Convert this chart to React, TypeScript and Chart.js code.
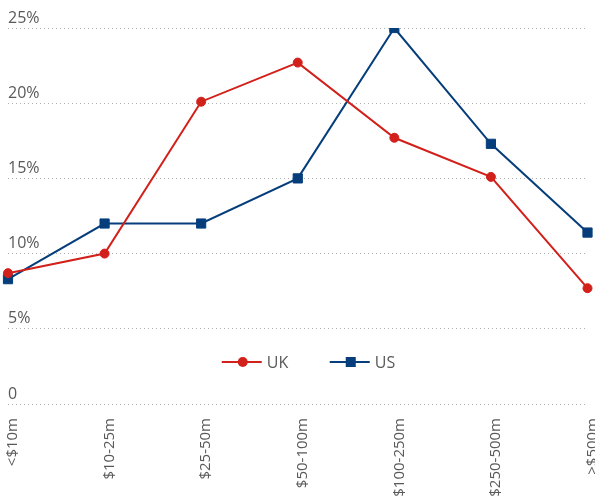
import React, { useEffect, useRef } from "react";
import { Chart, registerables } from "chart.js";

Chart.register(...registerables);

const categories = ["<$10m", "$10-25m", "$25-50m", "$50-100m", "$100-250m", "$250-500m", ">$500m"];
const ukValues = [8.7, 10.0, 20.1, 22.7, 17.7, 15.1, 7.7];
const usValues = [8.3, 12.0, 12.0, 15.0, 25.0, 17.3, 11.4];
const yTicks = [0, 5, 10, 15, 20, 25];

const UK_COLOR = "#d2201b";
const US_COLOR = "#053e7b";
const TEXT_COLOR = "#595959";
const FONT = "'Open Sans', 'Noto Sans', sans-serif";

const legendPlugin = {
  id: "innerLegend",
  afterDraw(chart: any) {
    const { ctx, chartArea } = chart;
    const cx = (chartArea.left + chartArea.right) / 2;
    const y = chartArea.bottom - 42;
    const items = [
      { label: "UK", color: UK_COLOR, style: "circle", x: cx - 76 },
      { label: "US", color: US_COLOR, style: "rect", x: cx + 32 },
    ];
    ctx.save();
    items.forEach((it) => {
      ctx.strokeStyle = it.color;
      ctx.lineWidth = 2;
      ctx.beginPath();
      ctx.moveTo(it.x, y);
      ctx.lineTo(it.x + 40, y);
      ctx.stroke();
      ctx.fillStyle = it.color;
      if (it.style === "circle") {
        ctx.beginPath();
        ctx.arc(it.x + 21, y, 5, 0, Math.PI * 2);
        ctx.fill();
      } else {
        ctx.fillRect(it.x + 16, y - 5, 10, 10);
      }
      ctx.fillStyle = TEXT_COLOR;
      ctx.font = `16px ${FONT}`;
      ctx.textBaseline = "middle";
      ctx.textAlign = "left";
      ctx.fillText(it.label, it.x + 45, y + 1);
    });
    ctx.restore();
  },
};

export default function App() {
  const ref = useRef<HTMLCanvasElement | null>(null);
  useEffect(() => {
    if (!ref.current) return;
    const chart = new Chart(ref.current, {
      type: "line",
      data: {
        labels: categories,
        datasets: [
          {
            label: "UK",
            data: ukValues,
            borderColor: UK_COLOR,
            backgroundColor: UK_COLOR,
            borderWidth: 2,
            pointStyle: "circle",
            pointRadius: 4.5,
            pointBorderWidth: 1,
            tension: 0,
          },
          {
            label: "US",
            data: usValues,
            borderColor: US_COLOR,
            backgroundColor: US_COLOR,
            borderWidth: 2,
            pointStyle: "rect",
            pointRadius: 6.5,
            pointBorderWidth: 1,
            tension: 0,
          },
        ],
      },
      options: {
        animation: false,
        responsive: true,
        maintainAspectRatio: false,
        layout: { padding: { left: 8, right: 7, top: 28, bottom: 0 } },
        plugins: {
          legend: { display: false },
          tooltip: { enabled: false },
        },
        scales: {
          x: {
            offset: false,
            grid: { display: false, drawTicks: false, tickLength: 0 },
            border: { display: false },
            afterFit: (scale: any) => {
              scale.paddingLeft = 0;
              scale.paddingRight = 0;
              scale.height = 95;
            },
            ticks: {
              color: TEXT_COLOR,
              font: { family: FONT, size: 15 },
              minRotation: 90,
              maxRotation: 90,
              padding: 14,
              labelOffset: 5,
            },
          },
          y: {
            min: 0,
            max: 25,
            afterBuildTicks: (scale: any) => {
              scale.ticks = yTicks.map((v) => ({ value: v }));
            },
            grid: {
              color: "#b0b0b0",
              lineWidth: 1,
              drawTicks: false,
            },
            border: { display: false, dash: [1, 3] },
            ticks: {
              mirror: true,
              padding: 0,
              labelOffset: -10,
              color: TEXT_COLOR,
              font: { family: FONT, size: 16 },
              callback: (v: any) => (Number(v) === 0 ? "0" : `${v}%`),
            },
          },
        },
      },
      plugins: [legendPlugin],
    });
    return () => chart.destroy();
  }, []);
  return (
    <div style={{ position: "fixed", left: 0, top: 0, width: 595, height: 499 }}>
      <canvas ref={ref} />
    </div>
  );
}
